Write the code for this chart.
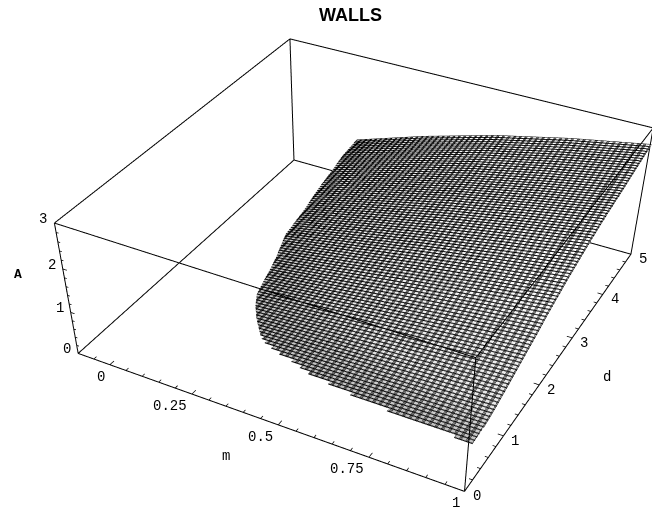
import numpy as np, plotly.graph_objects as go
# ---- data ----
title_text = "WALLS"
m_ticks = [0, 0.25, 0.5, 0.75, 1]
m_tick_labels = ["0", "0.25", "0.5", "0.75", "1"]
d_ticks = [0, 1, 2, 3, 4, 5]
A_ticks = [0, 1, 2, 3]
m_minor = [-0.05, 0.05, 0.1, 0.15, 0.2, 0.3, 0.35, 0.4, 0.45, 0.55, 0.6, 0.65, 0.7, 0.8, 0.85, 0.9, 0.95]
d_minor = [0.2, 0.4, 0.6, 0.8, 1.2, 1.4, 1.6, 1.8, 2.2, 2.4, 2.6, 2.8, 3.2, 3.4, 3.6, 3.8, 4.2, 4.4, 4.6, 4.8]
A_minor = [0.2, 0.4, 0.6, 0.8, 1.2, 1.4, 1.6, 1.8, 2.2, 2.4, 2.6, 2.8]
d_rows = [0.1, 0.15, 0.2, 0.25, 0.3, 0.35, 0.4, 0.45, 0.5, 0.55, 0.6, 0.65,
          0.9, 1.1, 1.3, 1.5, 1.7, 2.05, 2.3, 2.55, 2.85, 3.15, 3.6, 4.1, 4.55, 5.006]
m_start = [0.955, 0.778, 0.675, 0.61, 0.55, 0.52, 0.49, 0.45, 0.42, 0.395, 0.38, 0.37,
           0.325, 0.295, 0.272, 0.26, 0.25, 0.23, 0.212, 0.195, 0.187, 0.178, 0.16, 0.145, 0.13, 0.12]
stair_rows = 12
fractions = [0, 0.25, 0.5, 0.75, 0.995, 1.006]
A_table = [
 [1, 1, 1, 1, 1, 1],
 [1, 1, 1.004, 1.006, 1.008, 1.008],
 [1, 1.005, 1.01, 1.016, 1.022, 1.022],
 [1, 1.007, 1.015, 1.024, 1.034, 1.034],
 [1, 1.01, 1.022, 1.035, 1.05, 1.05],
 [1, 1.013, 1.028, 1.045, 1.063, 1.063],
 [1, 1.016, 1.035, 1.056, 1.077, 1.077],
 [1, 1.019, 1.042, 1.066, 1.09, 1.09],
 [1, 1.023, 1.05, 1.079, 1.107, 1.107],
 [1, 1.027, 1.059, 1.092, 1.125, 1.125],
 [1, 1.03, 1.067, 1.105, 1.142, 1.142],
 [1, 1.034, 1.076, 1.118, 1.16, 1.16],
 [1, 1.059, 1.129, 1.198, 1.27, 1.27],
 [1, 1.08, 1.178, 1.27, 1.36, 1.36],
 [1, 1.105, 1.229, 1.34, 1.45, 1.45],
 [1, 1.13, 1.272, 1.41, 1.54, 1.54],
 [1, 1.153, 1.316, 1.482, 1.63, 1.63],
 [1, 1.203, 1.417, 1.616, 1.8, 1.8],
 [1, 1.234, 1.475, 1.70, 1.9, 1.9],
 [1, 1.265, 1.533, 1.778, 2.0, 2.0],
 [1, 1.30, 1.593, 1.86, 2.1, 2.1],
 [1, 1.33, 1.652, 1.94, 2.2, 2.2],
 [1, 1.37, 1.73, 2.04, 2.32, 2.32],
 [1, 1.41, 1.80, 2.13, 2.42, 2.42],
 [1, 1.455, 1.88, 2.23, 2.53, 2.53],
 [0.97, 1.50, 1.96, 2.33, 2.63, 2.63],
]
M0, M1 = -0.1, 1.0
D0, D1 = 0, 5
A0, A1 = 0, 3
# ---- layout ----
WF, HF = 684, 1100
RX = [M0 - 0.004, M1 + 0.004]; RY = [-0.05, 5.05]; RZ = [-0.03, 3.03]
def px(x, y):
    return (x - 8) / WF, 1 - (y - 8) / HF

# rows of the mesh; below stair_rows each row repeats so the edge keeps its steps
xs, ys, zs = [], [], []
for k, (d, s, row) in enumerate(zip(d_rows, m_start, A_table)):
    if 0 < k < stair_rows:
        prev = m_start[k - 1]
        xs.append([prev + (1 - prev) * t for t in fractions]); ys.append([d - 0.004] * len(fractions)); zs.append(row)
    xs.append([s + (1 - s) * t for t in fractions]); ys.append([d - 0.003] * len(fractions)); zs.append(row)
fig = go.Figure()
scale = [[0, '#c0c0c0'], [0.15, '#e8e8e8'], [1, '#ffffff']]
for k, (om, od, show_d) in enumerate([(0, 0, True), (0.0027, 0.009, True), (0.0054, 0.02, False)]):
    fig.add_trace(go.Surface(x=xs, y=ys, z=zs, surfacecolor=zs, hidesurface=k > 0,
        colorscale=scale, showscale=False, cmin=1, cmax=2,
        lighting=dict(ambient=1, diffuse=0, specular=0, fresnel=0, roughness=1), hoverinfo='skip',
        contours=dict(x=dict(show=True, start=om, end=1.008, size=1/60, color='black', width=1, highlight=False),
                      y=dict(show=show_d, start=od, end=5.03, size=0.05, color='black', width=1, highlight=False),
                      z=dict(highlight=False))))
ex, ey, ez = [], [], []
for a, b in [((M0,D0,A0),(M1,D0,A0)),((M1,D0,A0),(M1,D1,A0)),((M1,D1,A0),(M0,D1,A0)),((M0,D1,A0),(M0,D0,A0)),
             ((M0,D0,A1),(M1,D0,A1)),((M1,D0,A1),(M1,D1,A1)),((M1,D1,A1),(M0,D1,A1)),((M0,D1,A1),(M0,D0,A1)),
             ((M0,D0,A0),(M0,D0,A1)),((M1,D0,A0),(M1,D0,A1)),((M1,D1,A0),(M1,D1,A1)),((M0,D1,A0),(M0,D1,A1))]:
    ex += [a[0], b[0], None]; ey += [a[1], b[1], None]; ez += [a[2], b[2], None]
fig.add_trace(go.Scatter3d(x=ex, y=ey, z=ez, mode='lines', line=dict(color='black', width=2), showlegend=False, hoverinfo='skip'))
tx, ty, tz = [], [], []
def seg(a, b):
    tx.extend([a[0], b[0], None]); ty.extend([a[1], b[1], None]); tz.extend([a[2], b[2], None])
for v in m_ticks: seg((v, 0, 0), (v, 0.08, 0))
for v in m_minor: seg((v, 0, 0), (v, 0.05, 0))
for v in d_ticks: seg((1, v, 0), (0.985, v, 0))
for v in d_minor: seg((1, v, 0), (0.991, v, 0))
for v in A_ticks: seg((M0, 0, v), (M0 + 0.012, 0, v))
for v in A_minor: seg((M0, 0, v), (M0 + 0.007, 0, v))
fig.add_trace(go.Scatter3d(x=tx, y=ty, z=tz, mode='lines', line=dict(color='black', width=1.5), showlegend=False, hoverinfo='skip'))
tf = dict(family='Liberation Mono', size=14, color='black')
ann = []
for v, t in zip(m_ticks, m_tick_labels):
    ann.append(dict(x=v, y=0, z=0, text=t, showarrow=False, xanchor='right', yanchor='middle', xshift=-3, yshift=-12, font=tf))
for v in d_ticks:
    ann.append(dict(x=1, y=v, z=0, text=str(v), showarrow=False, xanchor='center', yanchor='middle', xshift=12, yshift=-5, font=tf))
for v in A_ticks:
    ann.append(dict(x=M0, y=0, z=v, text=str(v), showarrow=False, xanchor='center', yanchor='middle', xshift=-11, yshift=4, font=tf))
axs = dict(showgrid=False, showline=False, showticklabels=False, showbackground=False, zeroline=False, title='', ticks='', showspikes=False)
fig.update_layout(width=WF, height=HF, margin=dict(l=0, r=0, t=0, b=0), showlegend=False, paper_bgcolor='white',
    scene=dict(domain=dict(x=[0, 1], y=[0, 1]), aspectmode='manual',
        aspectratio=dict(x=1.108/1.122, y=1.0137, z=0.3496),
        xaxis=dict(range=RX, **axs), yaxis=dict(range=RY, **axs), zaxis=dict(range=RZ, **axs),
        annotations=ann,
        camera=dict(eye=dict(x=1.2335, y=-2.372, z=1.6998), center=dict(x=0.1928, y=-0.4429, z=-0.5637),
                    up=dict(x=0, y=0, z=1), projection=dict(type='perspective'))))
def label(x, y, text, **font):
    X, Y = px(x, y)
    fig.add_annotation(x=X, y=Y, xref='paper', yref='paper', xanchor='center', yanchor='middle', showarrow=False, text=text, font=font)
label(350, 15, "<b>%s</b>" % title_text, family='Liberation Sans', size=18, color='black')
label(18, 274, "<b>A</b>", family='Liberation Mono', size=13, color='black')
label(226, 456, "m", family='Liberation Mono', size=14, color='black')
label(607, 377, "d", family='Liberation Mono', size=14, color='black')
fig.write_html("out.html")
